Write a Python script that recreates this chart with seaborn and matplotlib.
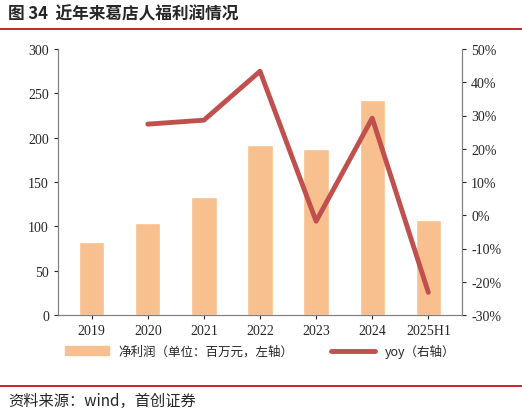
import matplotlib
matplotlib.use("Agg")
import matplotlib.pyplot as plt
import seaborn as sns
import pandas as pd
from matplotlib.lines import Line2D

sns.set_style("white")
plt.rcParams['font.family'] = ['Noto Sans CJK SC', 'DejaVu Sans']

years = ["2019", "2020", "2021", "2022", "2023", "2024", "2025H1"]
profit = [82, 104, 133, 192, 187, 242, 107]
yoy_years = ["2020", "2021", "2022", "2023", "2024", "2025H1"]
yoy = [27.4, 28.6, 43.3, -1.8, 29.2, -23.2]

df = pd.DataFrame({"year": years, "profit": profit})

fig = plt.figure(figsize=(5.22, 4.14), dpi=100)
ax = fig.add_axes([58/522, 1-316/414, 404/522, 266/414])
sns.barplot(data=df, x="year", y="profit", color="#F8C08F", width=0.45, ax=ax, saturation=1)
ax.set_ylim(0, 300)
ax.set_yticks(range(0, 301, 50))
ax.set_xlabel(""); ax.set_ylabel("")
for s in ["top"]:
    ax.spines[s].set_visible(False)
for s in ["left", "bottom", "right"]:
    ax.spines[s].set_color("#808080")
ax.tick_params(labelsize=10, length=3, direction="out", left=True, bottom=True)
for t in ax.get_xticklabels() + ax.get_yticklabels():
    t.set_family("Times New Roman" if False else ["Liberation Serif"])

ax2 = ax.twinx()
xpos = [years.index(y) for y in yoy_years]
ax2.plot(xpos, yoy, color="#C0504D", lw=3.5)
ax2.set_ylim(-30, 50)
ax2.set_yticks(range(-30, 51, 10))
ax2.set_yticklabels([f"{v}%" for v in range(-30, 51, 10)])
ax2.spines["top"].set_visible(False)
for s in ["left", "bottom", "right"]:
    ax2.spines[s].set_color("#808080")
ax2.tick_params(labelsize=10, length=3, direction="out", right=True)
for t in ax2.get_yticklabels():
    t.set_family(["Liberation Serif"])
ax.set_xlim(-0.6, 6.6)

handles = [plt.Rectangle((0, 0), 1, 1, color="#F8C08F"),
           Line2D([0], [0], color="#C0504D", lw=3.5)]
fig.legend(handles, ["净利润（单位：百万元，左轴）", "yoy（右轴）"], loc="center",
           bbox_to_anchor=(260/522, 1-352/414), ncol=2, frameon=False, fontsize=9,
           handlelength=3.5, columnspacing=3)

fig.text(8/522, 1-14/414, "图 34  近年来葛店人福利润情况", fontsize=12, fontweight="bold", va="center")
fig.add_artist(Line2D([0, 1], [1-30/414]*2, color="#C00000", lw=1.2))
fig.add_artist(Line2D([0, 1], [1-387/414]*2, color="#C00000", lw=1.2))
fig.text(8/522, 1-401/414, "资料来源：wind，首创证券", fontsize=11, style="italic", va="center")

fig.savefig("out.png", dpi=100)
